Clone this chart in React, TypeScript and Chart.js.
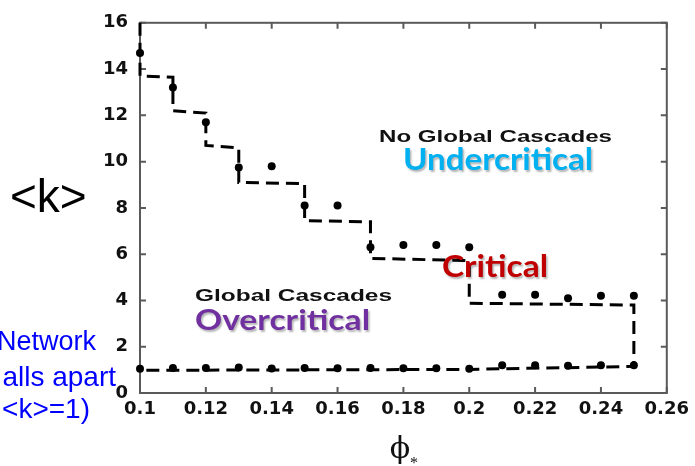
import React, { useEffect, useRef } from "react";
import { Chart, registerables } from "chart.js";

Chart.register(...registerables);

// ---- data ----
const phiValues = [0.1, 0.11, 0.12, 0.13, 0.14, 0.15, 0.16, 0.17, 0.18, 0.19, 0.2, 0.21, 0.22, 0.23, 0.24, 0.25];
const upperK = [14.7, 13.2, 11.7, 9.75, 9.8, 8.1, 8.1, 6.3, 6.4, 6.4, 6.3, 4.25, 4.25, 4.1, 4.2, 4.2];
const lowerK = [1.05, 1.08, 1.08, 1.1, 1.06, 1.08, 1.07, 1.08, 1.07, 1.07, 1.05, 1.2, 1.2, 1.18, 1.2, 1.2];

const boundaryPhi = [0.1, 0.1, 0.11, 0.11, 0.12, 0.12, 0.13, 0.13, 0.15, 0.15, 0.17, 0.17, 0.2, 0.2, 0.25, 0.25, 0.2, 0.1];
const boundaryK = [16, 13.7, 13.65, 12.2, 12.1, 10.7, 10.6, 9.1, 9.05, 7.45, 7.4, 5.82, 5.72, 3.88, 3.8, 1.15, 1.02, 0.98];

const xTicks = [0.1, 0.12, 0.14, 0.16, 0.18, 0.2, 0.22, 0.24, 0.26];
const yTicks = [0, 2, 4, 6, 8, 10, 12, 14, 16];

const tickFont = { family: "'DejaVu Sans', sans-serif", size: 18, weight: "bold" as const };

function drawStretched(
  ctx: CanvasRenderingContext2D,
  text: string,
  left: number,
  baseline: number,
  width: number,
  font: string,
  color: string,
  shadow: boolean
) {
  ctx.save();
  ctx.font = font;
  ctx.fillStyle = color;
  ctx.textAlign = "left";
  ctx.textBaseline = "alphabetic";
  const w = ctx.measureText(text).width;
  if (shadow) {
    ctx.shadowColor = "rgba(0,0,0,0.3)";
    ctx.shadowOffsetX = 1.5;
    ctx.shadowOffsetY = 1.5;
    ctx.shadowBlur = 2;
  }
  ctx.translate(left, baseline);
  ctx.scale(width / w, 1);
  ctx.fillText(text, 0, 0);
  ctx.restore();
}

const framePlugin = {
  id: "frame",
  beforeDatasetsDraw(chart: any) {
    const { ctx, chartArea: a, scales } = chart;
    ctx.save();
    ctx.strokeStyle = "#5a5a5a";
    ctx.lineWidth = 2;
    ctx.strokeRect(a.left, a.top, a.right - a.left, a.bottom - a.top);
    const tl = 6;
    ctx.beginPath();
    xTicks.forEach((v) => {
      const px = scales.x.getPixelForValue(v);
      ctx.moveTo(px, a.bottom);
      ctx.lineTo(px, a.bottom - tl);
      ctx.moveTo(px, a.top);
      ctx.lineTo(px, a.top + tl);
    });
    yTicks.forEach((v) => {
      const py = scales.y.getPixelForValue(v);
      ctx.moveTo(a.left, py);
      ctx.lineTo(a.left + tl, py);
      ctx.moveTo(a.right, py);
      ctx.lineTo(a.right - tl, py);
    });
    ctx.stroke();
    ctx.restore();
  },
  afterDraw(chart: any) {
    const ctx: CanvasRenderingContext2D = chart.ctx;
    const helv = "'Liberation Sans', Arial, sans-serif";
    const cal = "Lato, 'Open Sans', sans-serif";
    drawStretched(ctx, "No Global Cascades", 379, 142, 233, `bold 17px ${helv}`, "#111111", false);
    drawStretched(ctx, "Undercritical", 403, 170, 190, `bold 30px ${cal}`, "#00b0f0", true);
    drawStretched(ctx, "Critical", 442, 277, 106, `bold 31px ${cal}`, "#c00000", true);
    drawStretched(ctx, "Global Cascades", 195, 301, 197, `bold 16px ${helv}`, "#111111", false);
    drawStretched(ctx, "Overcritical", 195, 330, 175, `bold 28px ${cal}`, "#7030a0", true);

    ctx.save();
    ctx.fillStyle = "#000000";
    ctx.font = `46px ${helv}`;
    ctx.textAlign = "left";
    ctx.textBaseline = "alphabetic";
    ctx.fillText("<k>", 10, 212);

    ctx.fillStyle = "#0000ff";
    ctx.font = `27px ${helv}`;
    ctx.textAlign = "right";
    ctx.fillText("Network", 96, 350);
    ctx.font = `28px ${helv}`;
    ctx.fillText("alls apart", 116, 386);
    ctx.fillText("<k>=1)", 90, 418);

    ctx.fillStyle = "#111111";
    ctx.textAlign = "center";
    ctx.font = `30px 'DejaVu Serif', 'Liberation Serif', serif`;
    ctx.fillText("\u03d5", 400, 458);
    ctx.font = `16px 'Liberation Serif', 'DejaVu Serif', serif`;
    ctx.fillText("*", 414, 468);
    ctx.restore();
  },
};

export default function App() {
  const canvasRef = useRef<HTMLCanvasElement | null>(null);

  useEffect(() => {
    if (!canvasRef.current) return;
    const boundary = boundaryPhi.map((x, i) => ({ x, y: boundaryK[i] }));
    const upper = phiValues.map((x, i) => ({ x, y: upperK[i] }));
    const lower = phiValues.map((x, i) => ({ x, y: lowerK[i] }));

    const chart = new Chart(canvasRef.current, {
      type: "scatter",
      data: {
        datasets: [
          {
            label: "boundary",
            data: boundary,
            showLine: true,
            borderColor: "#000000",
            borderWidth: 3,
            borderDash: [13, 7],
            pointRadius: 0,
            fill: false,
            clip: false,
          } as any,
          {
            label: "upper",
            data: upper,
            pointRadius: 4,
            pointBackgroundColor: "#000000",
            pointBorderColor: "#000000",
            borderWidth: 0,
            clip: false,
          } as any,
          {
            label: "lower",
            data: lower,
            pointRadius: 4,
            pointBackgroundColor: "#000000",
            pointBorderColor: "#000000",
            borderWidth: 0,
            clip: false,
          } as any,
        ],
      },
      options: {
        animation: false,
        responsive: true,
        maintainAspectRatio: false,
        layout: { padding: { top: 16, right: 24, left: 0, bottom: 0 } },
        plugins: { legend: { display: false }, tooltip: { enabled: false } },
        scales: {
          x: {
            type: "linear",
            min: 0.1,
            max: 0.26,
            grid: { display: false, drawTicks: false },
            border: { display: false },
            ticks: {
              font: tickFont,
              color: "#111111",
              padding: 6,
              maxRotation: 0,
              autoSkip: false,
              callback: (v: any) => String(Number(Number(v).toFixed(2))),
            },
            afterBuildTicks: (s: any) => {
              s.ticks = xTicks.map((value) => ({ value }));
            },
            afterFit: (s: any) => {
              s.height = 73;
            },
          },
          y: {
            type: "linear",
            min: 0,
            max: 16,
            grid: { display: false, drawTicks: false },
            border: { display: false },
            ticks: {
              font: tickFont,
              color: "#111111",
              padding: 12,
              autoSkip: false,
            },
            afterBuildTicks: (s: any) => {
              s.ticks = yTicks.map((value) => ({ value }));
            },
            afterFit: (s: any) => {
              s.width = 140;
            },
          },
        },
      },
      plugins: [framePlugin],
    });
    return () => chart.destroy();
  }, []);

  return (
    <div style={{ position: "absolute", left: 0, top: 0, width: 695, height: 466, background: "#ffffff" }}>
      <canvas ref={canvasRef} />
    </div>
  );
}
